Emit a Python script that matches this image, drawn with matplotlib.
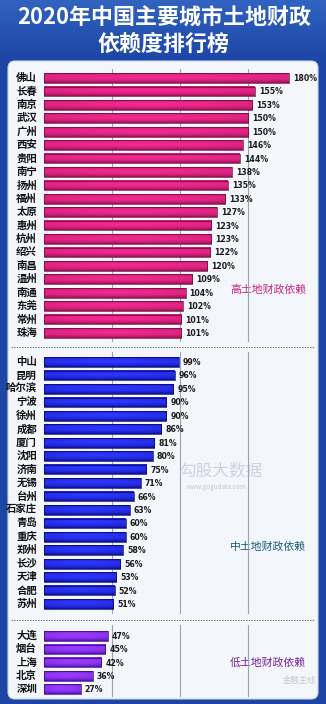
import numpy as np
import matplotlib
matplotlib.use("Agg")
import matplotlib.pyplot as plt
from matplotlib.patches import FancyBboxPatch

plt.rcParams['font.family'] = ['Noto Sans CJK SC', 'DejaVu Sans']

# land-finance dependence ratio (%) by city, 2020
high_cities = ["佛山", "长春", "南京", "武汉", "广州", "西安", "贵阳", "南宁", "扬州", "福州",
               "太原", "惠州", "杭州", "绍兴", "南昌", "温州", "南通", "东莞", "常州", "珠海"]
high_vals = [180, 155, 153, 150, 150, 146, 144, 138, 135, 133,
             127, 123, 123, 122, 120, 109, 104, 102, 101, 101]

mid_cities = ["中山", "昆明", "哈尔滨", "宁波", "徐州", "成都", "厦门", "沈阳", "济南",
              "无锡", "台州", "石家庄", "青岛", "重庆", "郑州", "长沙", "天津", "合肥", "苏州"]
mid_vals = [99, 96, 95, 90, 90, 86, 81, 80, 75, 71, 66, 63, 60, 60, 58, 56, 53, 52, 51]

low_cities = ["大连", "烟台", "上海", "北京", "深圳"]
low_vals = [47, 45, 42, 36, 27]

W, H = 326, 704
fig = plt.figure(figsize=(W / 100, H / 100), dpi=100)
fig.patch.set_facecolor("#1c45a6")

# full-figure canvas in pixel units for the frame, panel and title
bg = fig.add_axes([0, 0, 1, 1])
bg.set_xlim(0, W)
bg.set_ylim(H, 0)
bg.axis("off")
grad = np.linspace(0, 1, 80)[:, None]
bg.imshow(np.dstack([0.11 + 0.08 * (1 - grad), 0.27 + 0.12 * (1 - grad), 0.65 + 0.1 * (1 - grad)]),
          extent=(0, W, 62, 0), aspect="auto", zorder=0)
bg.add_patch(FancyBboxPatch((8, 61), 310, 638, boxstyle="round,pad=0,rounding_size=7",
                            fc="#f3f7fc", ec="#c8d4ea", lw=0.8, zorder=1))
bg.text(W / 2 + 1, 18, "2020年中国主要城市土地财政", color="white", fontsize=15.8,
        fontweight="bold", ha="center", va="center", zorder=2)
bg.text(W / 2 + 1, 44, "依赖度排行榜", color="white", fontsize=15.8,
        fontweight="bold", ha="center", va="center", zorder=2)
for ysep in (347, 620):
    bg.plot([11, 315], [ysep, ysep], color="#6a6f80", lw=0.8, ls=(0, (1.2, 1.2)), zorder=2)

# faint watermarks
bg.text(221, 471, "勾股大数据", color="#ccd3de", fontsize=12, ha="center", va="center", zorder=1.5)
bg.text(217, 487, "www.gogudata.com", color="#c0c7d3", fontsize=4.5, ha="center", va="center", zorder=1.5)
bg.text(300, 680, "金融主线", color="#c4c8d0", fontsize=6, ha="center", va="center", zorder=1.5)

X0, PX = 44, 1.361       # pixel of 0% and pixels per percent
XMAX = (316 - X0) / PX


def shade(c_dark, c_bright):
    t = np.linspace(0, 1, 40)
    v = np.sin(np.pi * (0.15 + 0.85 * t)) ** 0.7
    h = np.linspace(0, 1, 60)
    hv = 0.75 + 0.25 * np.sin(np.pi * (0.1 + 0.8 * h))
    f = (v[:, None] * hv[None, :])[..., None]
    d = np.array(matplotlib.colors.to_rgb(c_dark))
    b = np.array(matplotlib.colors.to_rgb(c_bright))
    return d + (b - d) * f


def group(cities, vals, c0, pitch, top, bottom, c_dark, c_bright, edge, label_y, label, lab_color):
    ax = fig.add_axes([X0 / W, 1 - bottom / H, (316 - X0) / W, (bottom - top) / H])
    ax.patch.set_alpha(0)
    ax.set_zorder(3)
    img = shade(c_dark, c_bright)
    bh = 0.72
    for i, (c, v) in enumerate(zip(cities, vals)):
        ax.imshow(img, extent=(0, v, i + bh / 2, i - bh / 2), aspect="auto",
                  interpolation="bilinear", zorder=2)
        ax.annotate(c, (0, i), xytext=(-7, 0), textcoords="offset pixels",
                    ha="right", va="center", fontsize=7.5, fontweight="bold", color="#111111")
        ax.annotate(f"{v}%", (v, i), xytext=(4, -0.5), textcoords="offset pixels",
                    ha="left", va="center", fontsize=5.6, fontweight="bold",
                    family="DejaVu Sans", color="#1a1a1a")
    ax.barh(range(len(vals)), vals, height=bh, fc="none", ec=edge, lw=0.5, zorder=3)
    for g in (50, 100, 150):
        ax.axvline(g, color="#9aa2b4", lw=0.8, zorder=1)
    ax.set_xlim(0, XMAX)
    ax.set_ylim((bottom - c0) / pitch, (top - c0) / pitch)
    ax.axis("off")
    bg.text(268, label_y, label, color=lab_color, fontsize=7.8,
            ha="center", va="center", zorder=4)


group(high_cities, high_vals, 78, 13.42, 69, 342, "#8e0c4e", "#f22a8e", "#6a0a3a",
      290, "高土地财政依赖", "#c4247e")
group(mid_cities, mid_vals, 362, 13.45, 352, 614, "#0a0a8a", "#2c36ff", "#07075e",
      547, "中土地财政依赖", "#1d5a78")
group(low_cities, low_vals, 636, 13.3, 625, 697, "#4a0ca8", "#9a3cff", "#330870",
      663, "低土地财政依赖", "#7a1e96")

fig.savefig("out.png", dpi=100, facecolor=fig.get_facecolor())
